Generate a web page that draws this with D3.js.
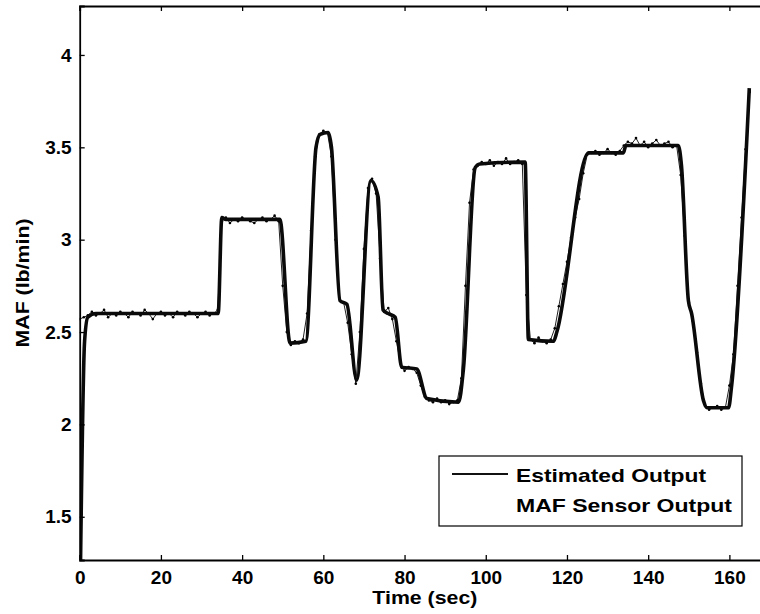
<!DOCTYPE html>
<html>
<head>
<meta charset="utf-8">
<script src="https://cdn.jsdelivr.net/npm/d3@7"></script>
<style>
  body { margin: 0; background: #fff; }
  svg { display: block; font-family: "Liberation Sans", Arial, sans-serif; font-weight: bold; }
</style>
</head>
<body>
<svg id="chart" width="760" height="614"></svg>
<script>
// estimated output, key points
const estTime = [0, 1.2, 2, 4, 34.1, 35, 36, 49.3, 51.8, 55.7, 58.2, 59.2, 61.2, 62, 64.1, 65.8, 68.2, 71.7, 73.5, 74.7, 76, 77.7, 79.3, 83, 85.5, 93.3, 94.5, 97.4, 98.5, 109.7, 110.5, 116.7, 117.5, 125.3, 133.9, 134.5, 147.4, 148.2, 149.9, 150.7, 153.6, 154.5, 159.8, 160.5, 164.9];
const estValue = [0.9, 2.45, 2.58, 2.6, 2.6, 3.12, 3.11, 3.11, 2.44, 2.45, 3.5, 3.57, 3.58, 3.5, 2.67, 2.65, 2.24, 3.32, 3.23, 2.62, 2.6, 2.58, 2.31, 2.3, 2.14, 2.12, 2.3, 3.39, 3.41, 3.42, 2.46, 2.45, 2.5, 3.47, 3.47, 3.51, 3.51, 3.4, 2.67, 2.6, 2.13, 2.09, 2.09, 2.2, 3.82];

// MAF sensor output, one reading per second from t = 0
const sensorValue = [
  2.57, 2.58, 2.59, 2.61, 2.59, 2.60, 2.62, 2.58, 2.60, 2.59,
  2.61, 2.60, 2.58, 2.61, 2.60, 2.59, 2.62, 2.60, 2.57, 2.60,
  2.61, 2.59, 2.60, 2.58, 2.61, 2.60, 2.59, 2.61, 2.60, 2.58,
  2.60, 2.61, 2.59, 2.60, 2.62, 3.10, 3.12, 3.09, 3.11, 3.10,
  3.12, 3.11, 3.10, 3.09, 3.11, 3.12, 3.10, 3.11, 3.13, 3.10,
  2.75, 2.50, 2.43, 2.45, 2.44, 2.46, 2.60, 3.05, 3.45, 3.57,
  3.59, 3.58, 3.45, 3.00, 2.68, 2.66, 2.55, 2.38, 2.22, 2.50,
  2.95, 3.28, 3.33, 3.25, 2.90, 2.61, 2.63, 2.57, 2.45, 2.33,
  2.29, 2.31, 2.30, 2.28, 2.21, 2.15, 2.13, 2.12, 2.14, 2.12,
  2.13, 2.11, 2.12, 2.13, 2.25, 2.75, 3.20, 3.38, 3.40, 3.42,
  3.41, 3.43, 3.40, 3.42, 3.41, 3.44, 3.41, 3.42, 3.43, 3.41,
  2.70, 2.46, 2.44, 2.47, 2.45, 2.44, 2.46, 2.52, 2.64, 2.76,
  2.88, 3.01, 3.12, 3.22, 3.36, 3.46, 3.47, 3.48, 3.46, 3.47,
  3.49, 3.47, 3.46, 3.48, 3.51, 3.53, 3.52, 3.55, 3.51, 3.53,
  3.50, 3.52, 3.54, 3.51, 3.52, 3.53, 3.50, 3.51, 3.35, 3.02,
  2.66, 2.56, 2.39, 2.22, 2.10, 2.08, 2.09, 2.10, 2.08, 2.09,
  2.21, 2.38, 2.75, 3.12, 3.49, 3.80
];

const xTicks = [0, 20, 40, 60, 80, 100, 120, 140, 160];
const yTicks = [1.5, 2, 2.5, 3, 3.5, 4];
const legendLabels = ["Estimated Output", "MAF Sensor Output"];
const legendWidths = [190, 216];

const svg = d3.select("#chart");
const pLeft = 79.7, pRight = 770, pTop = 6, pBottom = 560;

const x = d3.scaleLinear().domain([0, 170]).range([pLeft, pRight]);
const y = d3.scaleLinear().domain([1.266, 4.265]).range([pBottom, pTop]);

svg.append("defs").append("clipPath").attr("id", "clip")
  .append("rect").attr("x", pLeft).attr("y", pTop)
  .attr("width", pRight - pLeft).attr("height", pBottom - pTop);

const plot = svg.append("g").attr("clip-path", "url(#clip)");

const sensor = sensorValue.map((v, i) => [i, v]);
const est = estTime.map((t, i) => [t, estValue[i]]);

// sensor: thin trace plus dots
plot.append("path")
  .datum(sensor)
  .attr("fill", "none")
  .attr("stroke", "#222")
  .attr("stroke-width", 1)
  .attr("d", d3.line().x(d => x(d[0])).y(d => y(d[1])));

plot.selectAll("circle.sensor")
  .data(sensor)
  .join("circle")
    .attr("class", "sensor")
    .attr("cx", d => x(d[0]))
    .attr("cy", d => y(d[1]))
    .attr("r", 1.3)
    .attr("fill", "#000");

// estimated output: thick dark line
plot.append("path")
  .datum(est)
  .attr("fill", "none")
  .attr("stroke", "#0a0a0a")
  .attr("stroke-width", 3.6)
  .attr("stroke-linejoin", "round")
  .attr("d", d3.line().x(d => x(d[0])).y(d => y(d[1])).curve(d3.curveMonotoneX));

// axes, MATLAB style ticks on all four sides pointing inward
svg.append("g").attr("transform", `translate(0,${pBottom})`)
  .call(d3.axisBottom(x).tickValues(xTicks).tickSize(-5).tickPadding(11).tickFormat(d3.format("d")));
svg.append("g").attr("transform", `translate(0,${pTop})`)
  .call(d3.axisTop(x).tickValues(xTicks).tickSize(-5).tickFormat(""));
svg.append("g").attr("transform", `translate(${pLeft},0)`)
  .call(d3.axisLeft(y).tickValues(yTicks).tickSize(-5).tickPadding(8).tickFormat(d => d));
svg.append("g").attr("transform", `translate(${pRight},0)`)
  .call(d3.axisRight(y).tickValues(yTicks).tickSize(-5).tickFormat(""));

svg.selectAll(".domain").attr("stroke", "#000").attr("stroke-width", 1.8);
svg.selectAll(".tick line").attr("stroke", "#000").attr("stroke-width", 1.3);
svg.selectAll(".tick text")
  .attr("fill", "#000")
  .style("font-size", "19px")
  .style("font-weight", "bold")
  .style("font-family", "'Liberation Sans', Arial, sans-serif");

// axis titles
svg.append("text")
  .attr("x", (pLeft + pRight) / 2)
  .attr("y", 604)
  .attr("text-anchor", "middle")
  .attr("textLength", 105)
  .attr("lengthAdjust", "spacingAndGlyphs")
  .style("font-size", "19px")
  .text("Time (sec)");

svg.append("text")
  .attr("transform", `translate(29,${(pTop + pBottom) / 2}) rotate(-90)`)
  .attr("text-anchor", "middle")
  .attr("textLength", 129)
  .attr("lengthAdjust", "spacingAndGlyphs")
  .style("font-size", "19px")
  .text("MAF (lb/min)");

// legend
const lg = svg.append("g");
lg.append("rect")
  .attr("x", 439).attr("y", 456)
  .attr("width", 303).attr("height", 70)
  .attr("fill", "#fff")
  .attr("stroke", "#000")
  .attr("stroke-width", 1.2);
lg.append("line")
  .attr("x1", 452).attr("x2", 508)
  .attr("y1", 474).attr("y2", 474)
  .attr("stroke", "#111").attr("stroke-width", 2.2);
lg.selectAll("text")
  .data(legendLabels)
  .join("text")
    .attr("x", 516)
    .attr("y", (d, i) => 482 + i * 30)
    .attr("textLength", (d, i) => legendWidths[i])
    .attr("lengthAdjust", "spacingAndGlyphs")
    .style("font-size", "19px")
    .text(d => d);
</script>
</body>
</html>
